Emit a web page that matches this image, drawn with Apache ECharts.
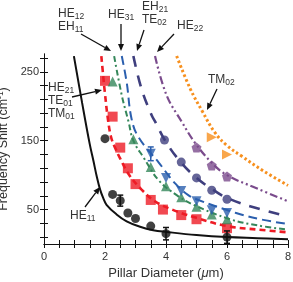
<!DOCTYPE html>
<html><head><meta charset="utf-8">
<script src="https://cdn.jsdelivr.net/npm/echarts@6/dist/echarts.min.js"></script>
<style>html,body{margin:0;padding:0;background:#fff}#c{width:293px;height:282px}</style>
</head><body><div id="c"></div>
<script>
// ---- data ----
const xTickLabels = [0, 2, 4, 6, 8];
const yTickLabels = [50, 150, 250];
const yMinorTicks = [10, 30, 50, 70, 90, 110, 130, 150, 170, 190, 210, 230, 250, 270];

// HE11 (black)
const he11CurveX = [0.98, 1.25, 1.5, 1.62, 1.73, 1.84, 1.94, 2.05, 2.38, 2.71, 3.15, 3.58, 4.02, 5.0, 6.0, 7.0, 8.0];
const he11CurveY = [273, 205, 145, 121, 98, 79, 67, 57, 43, 33, 25, 20, 17.5, 13, 10, 8.5, 7];
const he11PtsX = [2.0, 2.25, 2.5, 2.75, 3.0, 3.5, 4.0, 6.0];
const he11PtsY = [153, 72, 63, 45, 37, 26, 15, 10];

// HE21 / TE01 / TM01 (red)
const redCurveX = [1.88, 1.95, 2.0, 2.1, 2.2, 2.33, 2.5, 2.8, 3.2, 3.64, 4.2, 5.0, 6.0, 7.0, 8.0];
const redCurveY = [273, 240, 218, 180, 155, 140, 124, 100, 79, 62, 50, 38, 26, 21, 17];
const redPtsX = [2.0, 2.25, 2.5, 2.75, 3.0, 3.5, 3.9, 4.5, 5.0, 6.0];
const redPtsY = [237, 185, 140, 110, 87, 64, 50, 42, 36, 23];

// HE12 / EH11 (green)
const greenCurveX = [2.3, 2.55, 2.77, 2.93, 3.26, 3.75, 4.35, 4.9, 6.1, 7.0, 8.0];
const greenCurveY = [273, 216, 178, 150, 126, 93, 71, 57, 36, 27, 21];
const greenPtsX = [2.25, 2.93, 3.5, 4.0, 4.5, 5.0, 5.5, 6.0];
const greenPtsY = [236, 152, 112, 84, 68, 54, 43, 36];

// HE31 (blue)
const blueCurveX = [2.55, 2.71, 2.87, 3.1, 3.75, 4.3, 4.73, 5.06, 6.3, 7.08, 8.0];
const blueCurveY = [273, 235, 182, 155, 119, 88, 71, 64, 45, 36, 29];
const bluePtsX = [3.5, 4.0, 4.5, 5.0, 5.5, 6.0];
const bluePtsY = [131, 96, 77, 62, 49, 45];

// EH21 / TE02 (navy)
const navyCurveX = [2.93, 3.2, 3.53, 3.64, 4.0, 4.5, 5.0, 5.5, 6.0, 6.75, 8.0];
const navyCurveY = [273, 225, 187, 178, 148, 118, 96, 80, 67, 55, 40];
const navyPtsX = [3.95, 4.5, 5.0, 5.5, 6.0];
const navyPtsY = [151, 119, 96, 78, 65];

// HE22 (purple)
const purpleCurveX = [3.64, 4.02, 4.51, 4.95, 5.5, 6.0, 6.97, 8.0];
const purpleCurveY = [273, 216, 178, 147, 118, 100, 81, 62];
const purplePtsX = [5.0, 5.5, 6.0];
const purplePtsY = [140, 114, 98];

// TM02 (orange)
const orangeCurveX = [4.35, 4.8, 5.2, 5.6, 6.0, 6.5, 7.2, 8.0];
const orangeCurveY = [273, 225, 192, 162, 143, 127, 106, 85];
const orangePtsX = [5.5, 6.0];
const orangePtsY = [155, 130];

// error bars: x, low, high
const blackErrX = [2.5, 4.0, 6.0];
const blackErrLo = [55, 6, 1];
const blackErrHi = [71, 24, 19];
const blueErrX = [3.5];
const blueErrLo = [121];
const blueErrHi = [141];

// ---- build ----
const zip = (a, b) => a.map((v, i) => [v, b[i]]);
const FONT = 'Liberation Sans';
const C = {black:'#111111', red:'#ee1c25', green:'#35875a', blue:'#2b5fae', navy:'#3f3f7e', purple:'#7a4b8c', orange:'#f7901e'};

function curve(name, xs, ys, color, type, width) {
  return {name, type:'line', data: zip(xs, ys), smooth: 0.4, symbol:'none', z:2,
    lineStyle:{color, width, type, cap:'butt'}};
}
function pts(name, xs, ys, color, symbol, size, rotate) {
  return {name, type:'scatter', data: zip(xs, ys), symbol, symbolSize:size, symbolRotate: rotate||0, z:3,
    itemStyle:{color}};
}
function errs(xs, lo, hi, color) {
  return {type:'custom', z:4, data: xs.map((x,i)=>[x, lo[i], hi[i]]),
    renderItem(params, api) {
      const a = api.coord([api.value(0), api.value(1)]);
      const b = api.coord([api.value(0), api.value(2)]);
      const w = 3;
      const st = {stroke: color, lineWidth: 1.5};
      return {type:'group', children:[
        {type:'line', shape:{x1:a[0], y1:a[1], x2:b[0], y2:b[1]}, style:st},
        {type:'line', shape:{x1:a[0]-w, y1:a[1], x2:a[0]+w, y2:a[1]}, style:st},
        {type:'line', shape:{x1:b[0]-w, y1:b[1], x2:b[0]+w, y2:b[1]}, style:st}
      ]};
    }};
}

const pentagon = 'path://M0,-10 L9.5,-3.1 L5.9,8.1 L-5.9,8.1 L-9.5,-3.1 Z';

const rich = {
  b:{fontSize:12, fontFamily:FONT, color:'#333', lineHeight:13},
  s:{fontSize:8.5, fontFamily:FONT, color:'#333', lineHeight:13, padding:[6,0,0,0]}
};
function lbl(x, y, text) {
  return {type:'text', left:x, top:y, z:10, style:{text, rich, fontFamily:FONT, fontSize:12, fill:'#333'}};
}
function arrow(x1, y1, x2, y2) {
  const ang = Math.atan2(y2-y1, x2-x1), L = 7, W = 3;
  const bx = x2 - L*Math.cos(ang), by = y2 - L*Math.sin(ang);
  const px = -Math.sin(ang)*W, py = Math.cos(ang)*W;
  return {type:'group', z:10, children:[
    {type:'line', shape:{x1, y1, x2:bx, y2:by}, style:{stroke:'#111', lineWidth:1.3}},
    {type:'polygon', shape:{points:[[x2,y2],[bx+px,by+py],[bx-px,by-py]]}, style:{fill:'#111'}}
  ]};
}

const axisLineStyle = {lineStyle:{color:'#111', width:1}};
const option = {
  animation:false,
  backgroundColor:'#fff',
  grid:{left:44, right:5, top:54, height:190, containLabel:false, outerBoundsMode:'none'},
  xAxis:[
    {type:'value', min:0, max:8, interval:0.5, position:'bottom',
     axisLine:axisLineStyle, splitLine:{show:false},
     axisTick:{inside:true, length:4, lineStyle:{color:'#111'}},
     axisLabel:{fontFamily:FONT, fontSize:11, color:'#333', margin:7,
       formatter:v => xTickLabels.includes(v) ? String(v) : ''},
     name:'{a|Pillar Diameter (}{i|\u03bc}{a|m)}', nameLocation:'middle', nameGap:20,
     nameTextStyle:{rich:{a:{fontFamily:FONT, fontSize:13, color:'#333'}, i:{fontFamily:FONT, fontSize:13, fontStyle:'italic', color:'#333'}}}},
    {type:'value', min:0, max:8, interval:0.5, position:'top',
     axisLine:axisLineStyle, splitLine:{show:false},
     axisTick:{inside:true, length:4, lineStyle:{color:'#111'}},
     axisLabel:{show:false}}
  ],
  yAxis:[
    {type:'value', min:0, max:276, position:'left',
     axisLine:{show:true, lineStyle:{color:'#111', width:1}}, splitLine:{show:false},
     axisTick:{show:true, inside:true, length:4, customValues:yMinorTicks, lineStyle:{color:'#111'}},
     axisLabel:{fontFamily:FONT, fontSize:11, color:'#333', margin:5, customValues:yTickLabels},
     name:'{a|Frequency Shift (cm}{p|-1}{a|)}', nameLocation:'middle', nameGap:23, nameRotate:90,
     nameTextStyle:{rich:{a:{fontFamily:FONT, fontSize:12.5, color:'#333'}, p:{fontFamily:FONT, fontSize:8.5, color:'#333', padding:[0,0,6,0]}}}},
    {type:'value', min:0, max:276, position:'right',
     axisLine:{show:true, lineStyle:{color:'#111', width:1}}, splitLine:{show:false},
     axisTick:{show:true, inside:true, length:4, customValues:yMinorTicks, lineStyle:{color:'#111'}},
     axisLabel:{show:false}}
  ],
  series:[
    curve('HE11', he11CurveX, he11CurveY, C.black, 'solid', 2),
    curve('red', redCurveX, redCurveY, C.red, [6,4], 2.6),
    curve('green', greenCurveX, greenCurveY, C.green, [6,3,2,3], 2),
    curve('blue', blueCurveX, blueCurveY, C.blue, [9,5], 2),
    curve('navy', navyCurveX, navyCurveY, C.navy, [11,9], 2.6),
    curve('purple', purpleCurveX, purpleCurveY, C.purple, [8,3,2,3,2,3], 2.2),
    curve('orange', orangeCurveX, orangeCurveY, C.orange, [2.5,2.5], 3),
    pts('HE11 pts', he11PtsX, he11PtsY, C.black, 'circle', 9),
    pts('red pts', redPtsX, redPtsY, C.red, 'rect', 10),
    pts('green pts', greenPtsX, greenPtsY, C.green, 'triangle', 10),
    pts('blue pts', bluePtsX, bluePtsY, C.blue, 'triangle', 10, 180),
    pts('navy pts', navyPtsX, navyPtsY, C.navy, 'circle', 9),
    pts('purple pts', purplePtsX, purplePtsY, C.purple, pentagon, 10),
    pts('orange pts', orangePtsX, orangePtsY, C.orange, 'triangle', 10, -90),
    errs(blackErrX, blackErrLo, blackErrHi, C.black),
    errs(blueErrX, blueErrLo, blueErrHi, C.blue)
  ],
  graphic:[
    lbl(58, 6, '{b|HE}{s|12}\n{b|EH}{s|11}'),
    arrow(81, 34, 111, 51),
    lbl(108, 7, '{b|HE}{s|31}'),
    arrow(121, 24, 121, 51),
    lbl(142, -1, '{b|EH}{s|21}\n{b|TE}{s|02}'),
    arrow(144, 30, 137, 51),
    lbl(177, 18, '{b|HE}{s|22}'),
    arrow(174, 34, 157, 52),
    lbl(208, 72, '{b|TM}{s|02}'),
    arrow(217, 89, 207, 110),
    lbl(48, 80, '{b|HE}{s|21}\n{b|TE}{s|01}\n{b|TM}{s|01}'),
    arrow(72, 97, 102, 90),
    lbl(70, 208, '{b|HE}{s|11}'),
    arrow(85, 207, 100, 187)
  ]
};
echarts.init(document.getElementById('c'), null, {renderer:'canvas'}).setOption(option);
</script></body></html>
